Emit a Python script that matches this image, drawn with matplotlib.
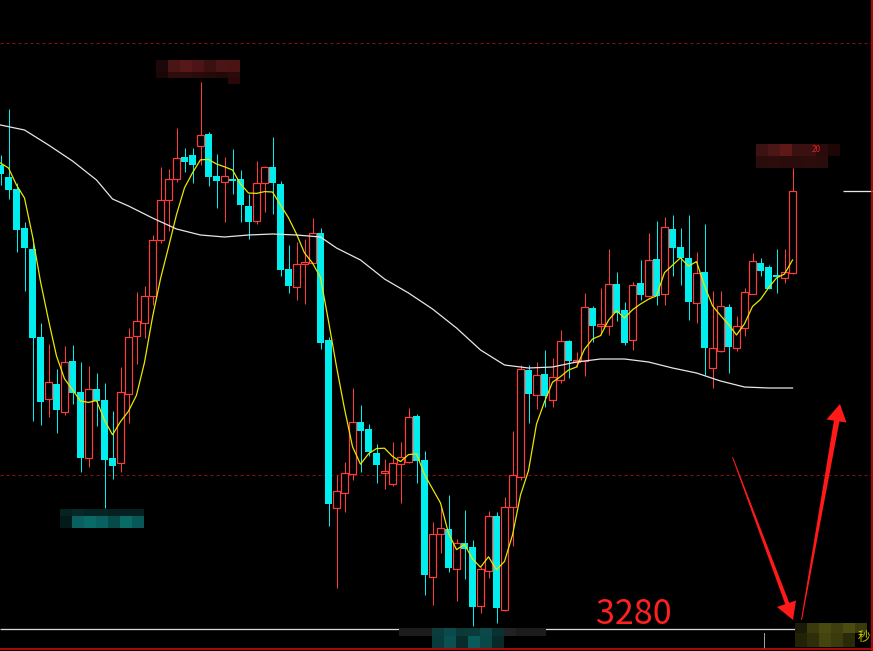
import numpy as np
import pandas as pd
import matplotlib.pyplot as plt
from matplotlib.patches import Rectangle, Polygon

plt.rcParams['font.family'] = ['Noto Sans CJK SC', 'DejaVu Sans']

# K线数据 (开, 高, 低, 收)
opens = [3512, 3506, 3500, 3480.5, 3470, 3426, 3395, 3402.5, 3388.5, 3414,
         3398.5, 3365.5, 3400, 3394.5, 3365.5, 3363, 3397.5, 3426.5, 3433, 3446.5,
         3474.5, 3494.5, 3505, 3516, 3517, 3521.5, 3527.5, 3506.5, 3503.5, 3505,
         3505, 3491.5, 3484, 3503, 3511, 3502.5, 3460, 3451, 3462.5, 3463,
         3478, 3424.5, 3340.5, 3348, 3357.5, 3383.5, 3380, 3368, 3358, 3352.5,
         3362.5, 3363.5, 3386.5, 3364.5, 3306, 3327.5, 3330, 3310, 3323, 3321,
         3291.5, 3309, 3336.5, 3289.5, 3341, 3356, 3409.5, 3397, 3407.5, 3394.5,
         3404.5, 3424, 3413.5, 3414, 3440.5, 3431.5, 3431.5, 3452.5, 3439.5, 3424.5,
         3453, 3446.5, 3465, 3447.5, 3480, 3471, 3465.5, 3443, 3458.5, 3410.5,
         3419, 3441, 3420.5, 3430.5, 3447.5, 3463, 3461, 3457, 3455.5, 3458]
highs = [3517, 3540, 3503, 3483.5, 3475.5, 3433, 3422.5, 3410, 3421.5, 3422,
         3413.5, 3411.5, 3408, 3403, 3389, 3411, 3430.5, 3448.5, 3451.5, 3477,
         3511, 3510, 3530.5, 3520.5, 3520.5, 3553.5, 3528.5, 3517.5, 3516, 3520,
         3509.5, 3497.5, 3514, 3511.5, 3526, 3504, 3472, 3473.5, 3475, 3485.5,
         3480.5, 3426, 3357, 3363.5, 3400.5, 3392, 3382.5, 3372.5, 3365, 3373.5,
         3373.5, 3390.5, 3387.5, 3369, 3333.5, 3341, 3347, 3325, 3339.5, 3324.5,
         3311, 3339, 3338.5, 3346, 3379, 3412, 3412, 3413.5, 3419.5, 3415.5,
         3429.5, 3424.5, 3418.5, 3448, 3441.5, 3450.5, 3470, 3458.5, 3443.5, 3453.5,
         3464.5, 3478, 3484, 3486, 3487, 3480.5, 3487, 3468.5, 3482.5, 3449,
         3449, 3442.5, 3436.5, 3450.5, 3468, 3465.5, 3462, 3470, 3470, 3510.5]
lows = [3502, 3495, 3468.5, 3449, 3384, 3382, 3386, 3378, 3387, 3392.5,
        3358.5, 3361, 3381.5, 3340.5, 3355, 3358.5, 3383, 3412.5, 3425.5, 3442,
        3473, 3479, 3503.5, 3508.5, 3503, 3512, 3501.5, 3490.5, 3483.5, 3497.5,
        3483.5, 3475, 3482.5, 3488.5, 3487.5, 3456.5, 3448, 3444.5, 3442.5, 3463,
        3420, 3331.5, 3300.5, 3338.5, 3354.5, 3358.5, 3366.5, 3353, 3350, 3351.5,
        3343, 3363, 3353, 3297, 3292, 3318, 3308.5, 3294, 3305, 3281.5,
        3288, 3305.5, 3283, 3289, 3321.5, 3354.5, 3383, 3390, 3391, 3391,
        3403, 3405.5, 3411, 3406.5, 3423.5, 3427, 3427, 3434, 3422, 3419.5,
        3444.5, 3446, 3442, 3442, 3456.5, 3452, 3434.5, 3433, 3407, 3400.5,
        3418.5, 3408, 3419, 3426.5, 3447.5, 3456.5, 3450, 3448, 3453, 3457.5]
closes = [3507.5, 3499.5, 3479.5, 3470.5, 3425.5, 3393.5, 3403.5, 3389.5, 3413.5, 3398,
          3365.5, 3400, 3394, 3364.5, 3361.5, 3398.5, 3426, 3434, 3446.5, 3474.5,
          3494.5, 3505, 3515.5, 3513.5, 3512, 3527, 3506, 3504, 3506.5, 3504,
          3492, 3483.5, 3503, 3511, 3503, 3459.5, 3451.5, 3462.5, 3463.5, 3478,
          3423, 3342.5, 3349, 3358, 3383.5, 3379, 3368.5, 3362, 3359, 3363,
          3366, 3386, 3364, 3307, 3327.5, 3330.5, 3310.5, 3323, 3320, 3291,
          3310, 3336.5, 3290.5, 3341, 3357, 3410, 3397.5, 3407, 3396.5, 3406,
          3424, 3414, 3414.5, 3441, 3431.5, 3432.5, 3452.5, 3438, 3423, 3452,
          3447, 3464.5, 3446.5, 3481, 3470.5, 3465.5, 3443.5, 3458, 3420.5, 3420.5,
          3441.5, 3421, 3431.5, 3448.5, 3464, 3459, 3450, 3456, 3458.5, 3499]

# 5日均线开头几根 (之前的数据不在图内)
ma5_head = [3513, 3510.5, 3502, 3495.5]

# 长期均线 (白线), 按K线序号读取
ma_long_idx = [0, 3, 6, 9, 12, 14, 16, 19, 22, 25, 28, 31, 34, 37, 40, 42, 45, 48,
               51, 54, 57, 60, 63, 66, 69, 72, 75, 78, 81, 84, 87, 90, 93, 96, 99]
ma_long = [3532, 3529.5, 3522, 3514, 3504.5, 3495, 3491.5, 3485.5, 3480, 3477,
           3476, 3477, 3477.5, 3477, 3476, 3470.5, 3464.5, 3455, 3448, 3440,
           3430.5, 3419.5, 3412, 3410.5, 3411, 3413.5, 3415, 3415, 3413.5, 3410.5,
           3408, 3404, 3401, 3400.5, 3400.5]

grid_levels = [3573, 3357]
target_level = 3280
target_text = "3280"

UP = '#ff3c3c'
DOWN = '#00eeee'
PX = 0.72  # 1 像素线宽

o = np.array(opens); h = np.array(highs); l = np.array(lows); c = np.array(closes)
x = np.arange(len(c))
up = c >= o

fig = plt.figure(figsize=(8.73, 6.51), dpi=100, facecolor='black')
ax = fig.add_axes([0, 0, 1, 1])
ax.set_facecolor('black')
ax.set_xlim(-0.0625, 109.06)
ax.set_ylim(3269, 3594.5)
ax.axis('off')

# 网格虚线
for g in grid_levels:
    ax.axhline(g, color='#8a0c0c', lw=PX, ls=(0, (3, 3)), zorder=1)

# 影线
ax.vlines(x[up], l[up], h[up], color=UP, lw=PX, zorder=2)
ax.vlines(x[~up], l[~up], h[~up], color=DOWN, lw=PX, zorder=2)

# 实体
body_lo = np.minimum(o, c)
body_h = np.maximum(np.abs(c - o), 0.4)
ax.bar(x[~up], body_h[~up], bottom=body_lo[~up], width=0.875, color=DOWN, lw=0, zorder=3)
ax.bar(x[up], body_h[up], bottom=body_lo[up], width=0.78, facecolor='black',
       edgecolor=UP, lw=PX * 1.2, zorder=3)

# 均线
ma5 = pd.Series(c).rolling(5).mean().to_numpy()
ma5[:4] = ma5_head
ax.plot(x, ma5, color='#e8e800', lw=0.9, zorder=4)
ax.plot(ma_long_idx, ma_long, color='#e6e6e6', lw=0.9, zorder=4)

# 最新价短线
ax.hlines(c[-1], 105.3, 109.1, color='#e6e6e6', lw=PX * 1.3)
# 3280 水平线
ax.hlines(target_level, -0.1, 99.45, color='#d8d8d8', lw=PX * 1.3, zorder=5)
ax.text(74.4, target_level + 2.5, target_text, color='#ff2020', fontsize=24.5,
        va='baseline', ha='left', zorder=6)

# 叠加层: 像素坐标, 用于边框、马赛克和箭头
ov = fig.add_axes([0, 0, 1, 1])
ov.set_xlim(0, 873)
ov.set_ylim(651, 0)
ov.axis('off')
ov.patch.set_alpha(0)

ov.plot([764, 764], [633, 648], color='#a0a0a0', lw=PX)
ov.plot([0, 873], [648.5, 648.5], color='#c80c0c', lw=1.2)
ov.plot([872, 872], [0, 651], color='#c80c0c', lw=1.2)

def mosaic(x0, y0, w, rows):
    # rows: list of (height, [colors])
    yy = y0
    for hh, cols in rows:
        for k, col in enumerate(cols):
            if col:
                ov.add_patch(Rectangle((x0 + k * w, yy), w, hh, color=col, lw=0, zorder=7))
        yy += hh

mosaic(156, 60, 12, [(12, ['#1c0808', '#4a1515', '#561818', '#4c1414', '#3a1010', '#4a1515', '#4a1414']),
                     (6, ['#1a0606', '#2e0c0c', '#2e0c0c', '#2a0a0a', '#260a0a', '#220808', '#2a0a0a']),
                     (6, [None, None, None, None, None, None, '#2a0808'])])
mosaic(756, 144, 12, [(12, ['#3c1212', '#4a1616', '#5e1818', '#3a1010', '#3a1010', '#2a0a0a', '#1e0606']),
                      (12, ['#2a0c0c', '#2e0c0c', '#2a0c0c', '#2a0c0c', '#2e0c0c', '#2a0c0c'])])
ov.text(812, 150, "20", color='#e02020', fontsize=6, va='center', zorder=8)
mosaic(60, 509, 12, [(7, ['#062222', '#072828', '#062424', '#062424', '#052020', '#052020', '#052020']),
                     (12, ['#041a1a', '#0a5f5f', '#0a6a66', '#086060', '#064a4a', '#0a6a66', '#085858'])])
ov.add_patch(Rectangle((399, 628), 147, 8, color='#1c1c1c', lw=0, zorder=7))
mosaic(432, 628, 12, [(8, ['#0c3c3c', '#0a4a4a', '#0c3838', '#0a3a3a', '#0c4848', '#0a3030', '#222']),
                      (12, ['#083c3c', '#0a5050', '#062c2c', '#0a5a5a', '#0a4848', '#062a2a', None])])
mosaic(795, 623, 12, [(10, ['#1a1a08', '#3a3a0c', '#4a4a10', '#3e3e0e', '#4c4c12', '#3a3a0a']),
                      (14, ['#222208', '#2e2e0a', '#44440e', '#3a3a0c', '#2a2a08', None])])
ov.text(858, 637, "秒", color='#c8c800', fontsize=9, va='center', ha='left', zorder=8)

# 红色箭头
arrow_col = '#ff1a1a'
ov.add_patch(Polygon([(732, 457), (733, 457), (789.5, 603.5), (785.5, 605)],
                     closed=True, color=arrow_col, lw=0, zorder=9))
ov.add_patch(Polygon([(777, 607), (796, 600.5), (793, 620)], closed=True,
                     color=arrow_col, lw=0, zorder=9))
ov.add_patch(Polygon([(801, 620), (802, 620), (839.5, 421), (834, 420)],
                     closed=True, color=arrow_col, lw=0, zorder=9))
ov.add_patch(Polygon([(826.5, 419.5), (846.5, 422.5), (840, 404)], closed=True,
                     color=arrow_col, lw=0, zorder=9))

fig.savefig('out.png', dpi=100, facecolor='black')
